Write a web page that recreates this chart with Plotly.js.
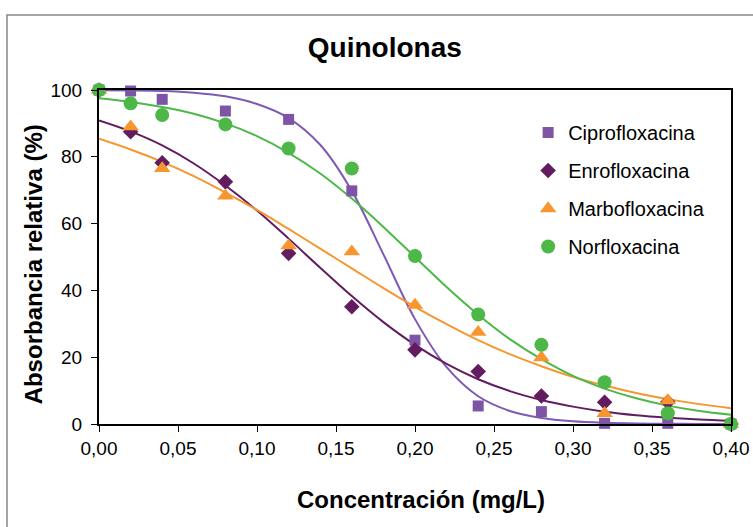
<!DOCTYPE html>
<html>
<head>
<meta charset="utf-8">
<script src="https://cdn.plot.ly/plotly-3.0.1.min.js"></script>
<style>html,body{margin:0;padding:0;background:#fff;}#chart{width:753px;height:527px;}</style>
</head>
<body>
<div id="chart"></div>
<script>
// Measured points (concentration mg/L vs relative absorbance %)
var conc = [0, 0.02, 0.04, 0.08, 0.12, 0.16, 0.20, 0.24, 0.28, 0.32, 0.36, 0.40];
var cipro = [100, 99.7, 97.2, 93.7, 91.2, 69.8, 25.1, 5.4, 3.7, 0.2, 0.2, 0];
var enro  = [100, 87.5, 78.2, 72.5, 51.1, 35.1, 22.2, 15.7, 8.4, 6.5, 6.6, 0];
var marbo = [100, 89.0, 76.5, 68.3, 53.4, 51.6, 35.6, 27.5, 19.9, 3.2, 7.0, 0];
var norflo= [100, 96.0, 92.5, 89.7, 82.5, 76.5, 50.3, 32.8, 23.7, 12.5, 3.2, 0];

// Fitted trend curves
var curveX = [0,0.02,0.04,0.06,0.08,0.10,0.12,0.14,0.16,0.18,0.20,0.22,0.24,0.26,0.28,0.30,0.32,0.34,0.36,0.38,0.40];
var ciproFit  = [99.9,99.85,99.7,99.2,98.1,95.8,91.6,83.6,69.8,50.8,31.4,17.0,8.3,3.9,1.8,0.8,0.35,0.15,0.07,0.03,0.01];
var enroFit   = [90.9,87.6,83.4,78.0,71.4,63.9,55.5,46.8,38.3,30.5,23.7,18.0,13.4,9.85,7.2,5.2,3.7,2.65,1.9,1.33,0.94];
var marboFit  = [85.4,82.2,78.5,74.2,69.3,64.1,58.4,52.5,46.6,40.7,35.1,29.9,25.1,20.9,17.3,14.1,11.5,9.26,7.45,5.95,4.74];
var norfloFit = [97.5,96.4,94.9,92.9,90.0,86.2,81.2,75.0,67.5,59.0,50.0,41.0,32.7,25.4,19.4,14.4,10.6,7.7,5.5,3.9,2.8];

var names = ['Ciprofloxacina','Enrofloxacina','Marbofloxacina','Norfloxacina'];
var xTickVals = [0,0.05,0.10,0.15,0.20,0.25,0.30,0.35,0.40];
var yTickVals = [0,20,40,60,80,100];

var markerColors = ['#7E55A6','#621D60','#F7962E','#4DB848'];
var lineColors   = ['#7F5AB2','#621D60','#F7962E','#4DB848'];
var symbols = ['square','diamond','triangle-up','circle'];
var sizes = [11,12,14.5,14];

var pts = [cipro, enro, marbo, norflo];
var fits = [ciproFit, enroFit, marboFit, norfloFit];

var traces = [];
for (var i = 0; i < 4; i++) {
  traces.push({
    x: curveX, y: fits[i], type: 'scatter', mode: 'lines',
    line: {color: lineColors[i], width: 2, shape: 'spline', smoothing: 1},
    showlegend: false, hoverinfo: 'skip', cliponaxis: false
  });
}
for (var j = 0; j < 4; j++) {
  traces.push({
    x: conc, y: pts[j], type: 'scatter', mode: 'markers', name: names[j],
    legendgroup: 'g' + j,
    marker: {symbol: symbols[j], size: sizes[j], color: markerColors[j], line: {width: 0}},
    cliponaxis: false
  });
}

var FONT = 'Liberation Sans, Arial, Helvetica, sans-serif';
var layout = {
  width: 753, height: 527,
  margin: {l: 99, r: 22, t: 90, b: 103},
  paper_bgcolor: '#ffffff', plot_bgcolor: '#ffffff',
  separators: ', ',
  font: {family: FONT, color: '#000', size: 19},
  title: {text: '<b>Quinolonas</b>', font: {family: FONT, size: 28, color: '#000'},
          x: 0.511, xref: 'container', xanchor: 'center', y: 0.911, yref: 'container', yanchor: 'middle'},
  xaxis: {
    range: [0, 0.40], tickvals: xTickVals, tickformat: '.2f',
    showgrid: false, zeroline: false,
    showline: true, linecolor: '#000', linewidth: 2, mirror: true,
    ticks: 'outside', ticklen: 6, tickwidth: 1, tickcolor: '#000',
    tickfont: {family: FONT, size: 19, color: '#000'}, ticklabelstandoff: 0
  },
  yaxis: {
    range: [0, 100], tickvals: yTickVals,
    showgrid: false, zeroline: false,
    showline: true, linecolor: '#000', linewidth: 2, mirror: true,
    ticks: 'outside', ticklen: 6, tickwidth: 1, tickcolor: '#000',
    tickfont: {family: FONT, size: 19, color: '#000'}, ticklabelstandoff: 5
  },
  legend: {
    x: 0.679, y: 0.931, xanchor: 'left', yanchor: 'top',
    font: {family: FONT, size: 20, color: '#000'},
    bgcolor: 'rgba(0,0,0,0)', borderwidth: 0,
    traceorder: 'grouped', tracegroupgap: 9
  },
  annotations: [
    {text: '<b>Absorbancia relativa (%)</b>', xref: 'paper', yref: 'paper',
     x: -0.1044, y: 0.478, xanchor: 'center', yanchor: 'middle', textangle: -90,
     showarrow: false, font: {family: FONT, size: 24, color: '#000'}},
    {text: '<b>Concentración (mg/L)</b>', xref: 'paper', yref: 'paper',
     x: 0.51, y: -0.2246, xanchor: 'center', yanchor: 'middle',
     showarrow: false, font: {family: FONT, size: 24, color: '#000'}}
  ],
  shapes: [
    {type: 'rect', xref: 'paper', yref: 'paper', x0: -0.1456, x1: 1.3, y0: -0.6, y1: 1.2246,
     line: {color: '#868686', width: 1.5}, fillcolor: 'rgba(0,0,0,0)', layer: 'below'}
  ]
};

Plotly.newPlot('chart', traces, layout, {displayModeBar: false, staticPlot: true});
</script>
</body>
</html>
